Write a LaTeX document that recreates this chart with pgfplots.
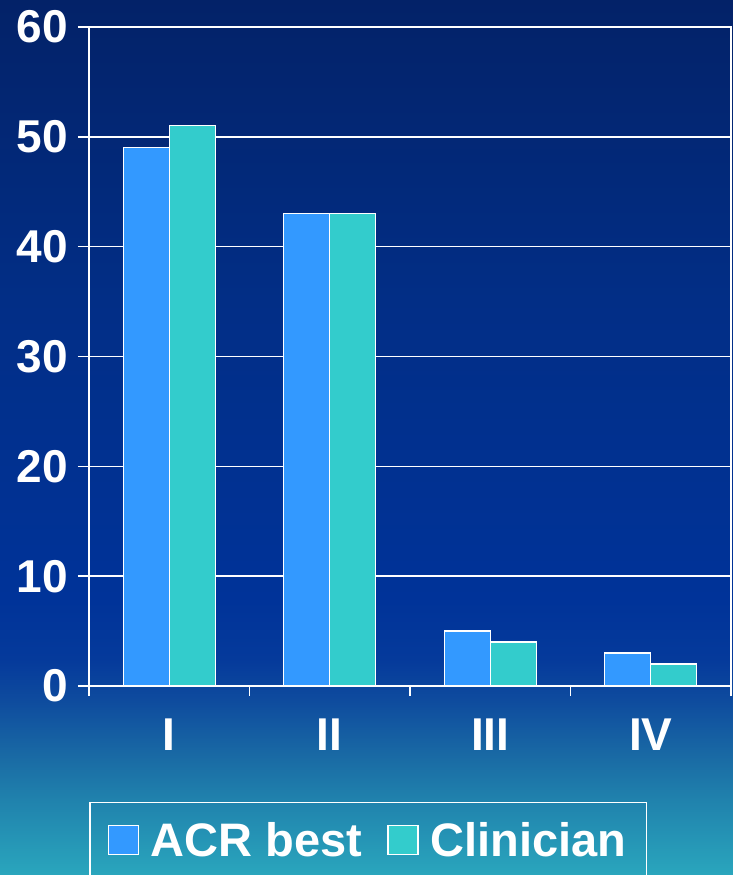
\documentclass[border=0pt]{standalone}
\usepackage{pgfplots}
\pgfplotsset{compat=1.18}
\usepackage{fontspec}
\setmainfont{Liberation Sans}
\definecolor{acr}{HTML}{3399FF}
\definecolor{clin}{HTML}{33CCCC}
\definecolor{bgA}{HTML}{032268}
\definecolor{bgB}{HTML}{022E86}
\definecolor{bgC}{HTML}{003399}
\definecolor{bgD}{HTML}{053A9B}
\definecolor{bgE}{HTML}{0E4B9E}
\definecolor{bgF}{HTML}{1A6CA5}
\definecolor{bgG}{HTML}{2082AD}
\definecolor{bgH}{HTML}{2AA6BD}
\pgfdeclareverticalshading{bgshade}{733bp}{color(0bp)=(bgH); color(75bp)=(bgG); color(115bp)=(bgF); color(175bp)=(bgE); color(215bp)=(bgD); color(275bp)=(bgC); color(575bp)=(bgB); color(875bp)=(bgA)}
\begin{document}
\begin{tikzpicture}
\clip (0,0) rectangle (733bp,875bp);
\node[inner sep=0pt, anchor=south west] at (0,0) {\pgfuseshading{bgshade}};
\begin{axis}[
  at={(89bp,189bp)}, anchor=south west,
  scale only axis, width=642bp, height=659bp,
  ybar=0pt, bar width=46bp,
  xmin=-0.5, xmax=3.5, ymin=0, ymax=60,
  xtick={0,1,2,3}, xticklabels={I,II,III,IV},
  minor xtick={-0.5,0.5,1.5,2.5,3.5},
  ytick={0,10,...,60},
  xtick pos=bottom, ytick pos=left,
  ymajorgrids, grid style={white, line width=1.5bp},
  axis line style={white, line width=2bp},
  tick align=outside,
  major tick length=11bp, minor tick length=10bp,
  every tick/.style={white, line width=1.5bp},
  major x tick style={draw=none},
  /pgf/number format/assume math mode=true,
  ticklabel style={font=\bfseries\fontsize{46bp}{46bp}\selectfont, text=white, inner sep=0pt},
  yticklabel style={xshift=-10bp},
  xticklabel style={yshift=-22bp},
  legend style={at={(0,-0.176)}, anchor=north west, draw=white, line width=1.5bp, fill=none,
    text=white, font=\bfseries\fontsize{47bp}{50bp}\selectfont,
    inner xsep=18bp, inner ysep=18bp,
    /tikz/every odd column/.append style={column sep=10bp},
    /tikz/every even column/.append style={column sep=23bp}},
  legend columns=2,
  legend image code/.code={\draw[#1, line width=1.2bp] (0bp,-14bp) rectangle (30bp,15bp);},
]
\addplot[fill=acr, draw=white, line width=1.2bp] coordinates {(0,49) (1,43) (2,5) (3,3)};
\addplot[fill=clin, draw=white, line width=1.2bp] coordinates {(0,51) (1,43) (2,4) (3,2)};
\legend{ACR best, Clinician}
\end{axis}
\end{tikzpicture}
\end{document}
